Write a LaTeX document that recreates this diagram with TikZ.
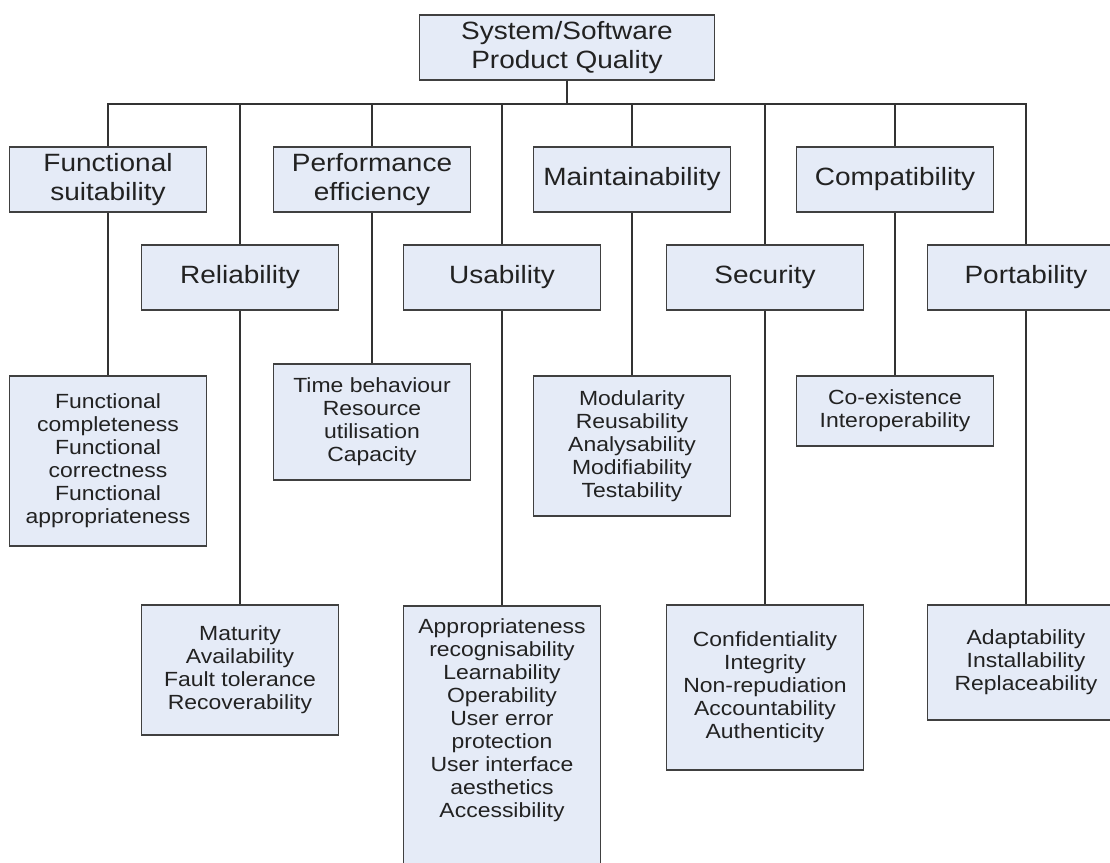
\documentclass[tikz,border=0pt]{standalone}
\usepackage{fontspec}
\setmainfont{Liberation Sans}[FakeStretch=1.12]
\usetikzlibrary{positioning}
\definecolor{boxfill}{RGB}{229,235,247}
\definecolor{boxline}{RGB}{64,64,64}
\definecolor{textgray}{RGB}{34,34,34}

\begin{document}
\begin{tikzpicture}[
                x=1pt, y=-1pt,
                cat/.style={rectangle, draw=boxline, fill=boxfill, line width=1.6pt, minimum width=197pt, minimum height=65pt, inner sep=0pt, align=center, text=textgray, font=\fontsize{25}{29}\selectfont},
                leaf/.style={rectangle, draw=boxline, fill=boxfill, line width=1.6pt, minimum width=197pt, inner sep=0pt, align=center, text=textgray, font=\fontsize{20.5}{23}\selectfont},
                link/.style={draw=black!80, line width=2pt},
                bus/.style={to path={|- (\tikztotarget.north |- busline) -- (\tikztotarget.north)}}
            ]

            \clip (0,0) rectangle (1110,862);

            %root
            \node[cat, minimum width=295pt] (root) at (567,47.5) {System/Software\\Product Quality};
            \coordinate (busline) at (567,104);

            %characteristics, upper row
            \node[cat]  (func)  at (108,179.5)      {Functional\\suitability};
            \node[cat]  (perf)  at (372,179.5)      {Performance\\efficiency};
            \node[cat]  (main)  at (632,179.5)      {Maintainability};
            \node[cat]  (comp)  at (895,179.5)      {Compatibility};

            %characteristics, lower row
            \node[cat]  (reli)  at (240,277.5)      {Reliability};
            \node[cat]  (usab)  at (502,277.5)      {Usability};
            \node[cat]  (secu)  at (765,277.5)      {Security};
            \node[cat]  (port)  at (1026,277.5)     {Portability};

            %sub-characteristics
            \node[leaf, minimum height=170pt] (func_sub) at (108,461)
                {Functional\\completeness\\Functional\\correctness\\Functional\\appropriateness};
            \node[leaf, minimum height=116pt] (perf_sub) at (372,422)
                {Time behaviour\\Resource\\utilisation\\Capacity};
            \node[leaf, minimum height=140pt] (main_sub) at (632,446)
                {Modularity\\Reusability\\Analysability\\Modifiability\\Testability};
            \node[leaf, minimum height=70pt]  (comp_sub) at (895,411)
                {Co-existence\\Interoperability};
            \node[leaf, minimum height=130pt] (reli_sub) at (240,670)
                {Maturity\\Availability\\Fault tolerance\\Recoverability};
            \node[leaf, anchor=north, inner ysep=13pt, text depth=80pt] (usab_sub) at (502,605)
                {Appropriateness\\recognisability\\Learnability\\Operability\\User error\\protection\\User interface\\aesthetics\\Accessibility};
            \node[leaf, minimum height=165pt] (secu_sub) at (765,687.5)
                {Confidentiality\\Integrity\\Non-repudiation\\Accountability\\Authenticity};
            \node[leaf, minimum height=115pt] (port_sub) at (1026,662.5)
                {Adaptability\\Installability\\Replaceability};

            %tree lines
            \draw[link, bus]
                (root.south) edge (func) edge (perf) edge (main) edge (comp)
                             edge (reli) edge (usab) edge (secu) edge (port);
            \draw[link] (func) -- (func_sub);
            \draw[link] (perf) -- (perf_sub);
            \draw[link] (main) -- (main_sub);
            \draw[link] (comp) -- (comp_sub);
            \draw[link] (reli) -- (reli_sub);
            \draw[link] (usab) -- (usab_sub);
            \draw[link] (secu) -- (secu_sub);
            \draw[link] (port) -- (port_sub);

            \end{tikzpicture}
\end{document}
